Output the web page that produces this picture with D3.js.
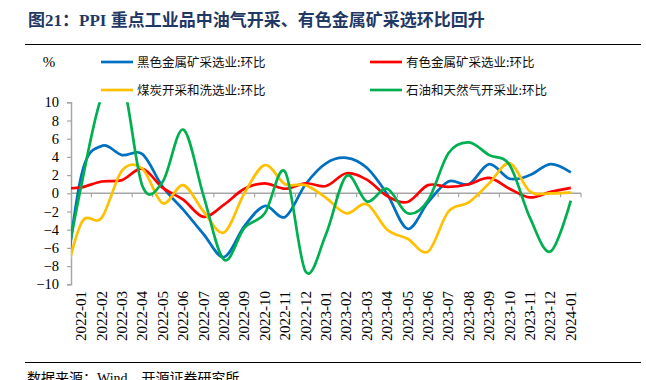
<!DOCTYPE html>
<html><head><meta charset="utf-8">
<script src="https://cdn.jsdelivr.net/npm/d3@7/dist/d3.min.js"></script>
<style>body{margin:0;background:#fff}svg{display:block}</style></head>
<body><svg id="c" width="646" height="380"></svg>
<script>
// ---- data ----
const leadMonth = "2021-12"; // preceding month, drawn but clipped at the axis
const months = ["2022-01","2022-02","2022-03","2022-04","2022-05","2022-06","2022-07","2022-08","2022-09","2022-10","2022-11","2022-12",
  "2023-01","2023-02","2023-03","2023-04","2023-05","2023-06","2023-07","2023-08","2023-09","2023-10","2023-11","2023-12","2024-01"];
const yTicks = [-10,-8,-6,-4,-2,0,2,4,6,8,10];
const seriesNames = ["黑色金属矿采选业:环比","有色金属矿采选业:环比","煤炭开采和洗选业:环比","石油和天然气开采业:环比"];
const seriesColors = ["#0070C0","#FF0000","#FFC000","#00B050"];
// values: first entry = leadMonth, then months
const ferrous = [-14, 1.9,5.2,4.2,4.3,0.7,-1.8,-4.5,-7.0,-3.6,-1.4,-2.6,1.0, 3.3,3.9,2.8,-0.1,-3.9,-1.0,1.3,1.0,3.2,1.6,2.0,3.2,2.3];
const nonferrous = [0.55, 0.65,1.3,1.45,2.7,0.6,-0.7,-2.6,-1.25,0.5,1.1,0.5,1.1, 0.8,2.2,1.5,-0.3,-0.95,0.9,0.7,1.0,1.7,0.5,-0.45,0.15,0.6];
const coal = [-11.6, -3.3,-2.7,2.5,2.7,-1.1,0.9,-2.0,-4.3,0.0,3.1,1.0,0.9, -0.5,-2.2,-1.2,-4.0,-5.0,-6.4,-2.0,-1.0,1.1,3.3,0.2,0.0,0.1];
const oilGas = [-11, 0.8,10.6,12.5,0.8,1.3,7.0,-0.3,-7.3,-3.8,-2.2,2.35,-8.6, -4.5,1.9,-0.9,0.5,-2.2,-0.8,4.4,5.6,4.2,3.1,-2.7,-6.4,-0.8];
const allSeries = [ferrous, nonferrous, coal, oilGas];

// ---- chart ----
const svg = d3.select("#c");
const L = 71, R = 581, T = 102.3, B = 284.3;
const SERIF = "'Liberation Serif','Times New Roman',serif";
const CJK = "'Noto Sans CJK SC','Noto Sans',sans-serif";

svg.append("text").attr("x", 28).attr("y", 26)
  .attr("font-family", "'Liberation Serif','Noto Sans CJK SC',serif").attr("font-weight", "bold")
  .attr("font-size", 17).attr("fill", "#1F3864")
  .text("图21：PPI 重点工业品中油气开采、有色金属矿采选环比回升");
svg.append("line").attr("x1", 25).attr("x2", 641).attr("y1", 44.5).attr("y2", 44.5)
  .attr("stroke", "#000").attr("stroke-width", 1);

const x = d3.scaleBand().domain(months).range([L, R]).paddingInner(0).paddingOuter(0);
const step = x.step();
const xFirst = x(months[0]) + x.bandwidth() / 2;
const xLast = x(months[months.length - 1]) + x.bandwidth() / 2;
const xp = d3.scalePoint().domain([leadMonth, ...months]).range([xFirst - step, xLast]);
const y = d3.scaleLinear().domain([-10, 10]).range([B, T]);

// y axis
const yAxis = svg.append("g").attr("transform", `translate(${L},0)`)
  .call(d3.axisLeft(y).tickValues(yTicks).tickSize(4).tickPadding(8).tickFormat(d3.format("d")));
yAxis.select(".domain").attr("stroke", "#A6A6A6").attr("stroke-width", 1.5);
yAxis.selectAll(".tick line").attr("stroke", "#A6A6A6").attr("stroke-width", 1.2);
yAxis.selectAll(".tick text").attr("font-family", SERIF).attr("font-size", 14.5).attr("fill", "#000");

// x axis at zero
const gx = svg.append("g");
gx.append("line").attr("x1", L).attr("x2", R).attr("y1", y(0)).attr("y2", y(0))
  .attr("stroke", "#A6A6A6").attr("stroke-width", 1.5);
gx.selectAll("line.tk").data(months).enter().append("line").attr("class", "tk")
  .attr("x1", d => x(d) + step).attr("x2", d => x(d) + step)
  .attr("y1", y(0)).attr("y2", y(0) + 4).attr("stroke", "#A6A6A6").attr("stroke-width", 1.2);
svg.append("g").selectAll("text").data(months).enter().append("text")
  .attr("transform", d => `translate(${x(d) + x.bandwidth() / 2 + 5},291) rotate(-90)`)
  .attr("text-anchor", "end").attr("font-family", SERIF).attr("font-size", 15).attr("fill", "#000")
  .text(d => d);

// clip
svg.append("clipPath").attr("id", "pc").append("rect")
  .attr("x", L).attr("y", T).attr("width", R - L + 2).attr("height", B - T);

const line = d3.line().x((d, i) => xp(i === 0 ? leadMonth : months[i - 1])).y(d => y(d))
  .curve(d3.curveCardinal.tension(0));
const lines = svg.append("g").attr("clip-path", "url(#pc)");
allSeries.forEach((s, k) => {
  lines.append("path").attr("d", line(s)).attr("fill", "none")
    .attr("stroke", seriesColors[k]).attr("stroke-width", 2.7).attr("stroke-linejoin", "round");
});

// unit
svg.append("text").attr("x", 49).attr("y", 67).attr("text-anchor", "middle")
  .attr("font-family", SERIF).attr("font-size", 15).text("%");

// legend
const legPos = [[101, 62], [370, 62], [101, 90], [370, 90]];
seriesNames.forEach((n, k) => {
  const [lx, ly] = legPos[k];
  svg.append("line").attr("x1", lx).attr("x2", lx + 32).attr("y1", ly).attr("y2", ly)
    .attr("stroke", seriesColors[k]).attr("stroke-width", 2.7);
  svg.append("text").attr("x", lx + 36).attr("y", ly + 4.5)
    .attr("font-family", CJK).attr("font-size", 12.5).attr("fill", "#111").text(n);
});

// source
svg.append("line").attr("x1", 25).attr("x2", 641).attr("y1", 362.5).attr("y2", 362.5)
  .attr("stroke", "#000").attr("stroke-width", 1);
svg.append("text").attr("x", 27).attr("y", 383)
  .attr("font-family", "'Liberation Serif','Noto Sans CJK SC',serif").attr("font-size", 14).attr("fill", "#000")
  .text("数据来源：Wind，开源证券研究所");
</script></body></html>
